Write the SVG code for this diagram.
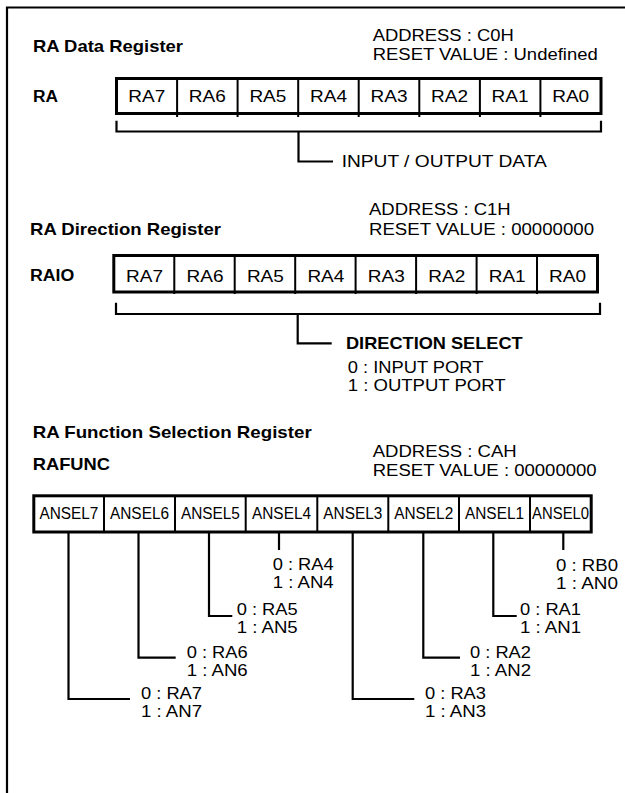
<svg xmlns="http://www.w3.org/2000/svg" width="625" height="793" viewBox="0 0 625 793">
<style>
text{font-family:"Liberation Sans",Arial,Helvetica,sans-serif;fill:#000}
.b{font-weight:bold;font-size:17px}
.lb{font-weight:bold;font-size:16px}
.r{font-size:16px}
.c{font-size:17px;text-anchor:middle}
.s{font-size:16px;text-anchor:middle}
.v{font-size:17px}
.box{fill:#fff;stroke:#000;stroke-width:3}
.dv{stroke:#000;stroke-width:2}
.ln{fill:none;stroke:#000;stroke-width:2.2}
</style>
<rect width="625" height="793" fill="#fff"/>
<g id="frame"><path d="M7,793 V7.5 H625" class="ln" stroke-width="2"/></g>

<g id="ra-data-register">
<text class="b" x="33" y="52" textLength="150" lengthAdjust="spacingAndGlyphs">RA Data Register</text>
<text class="r" x="372.7" y="41" textLength="141" lengthAdjust="spacingAndGlyphs">ADDRESS : C0H</text>
<text class="r" x="372.7" y="59.5" textLength="225" lengthAdjust="spacingAndGlyphs">RESET VALUE : Undefined</text>
<text class="lb" x="33" y="101.5" textLength="25" lengthAdjust="spacingAndGlyphs">RA</text>
<rect class="box" x="116.5" y="78.5" width="484.5" height="35"/>
<path class="dv" d="M177.1,78.5V117M237.6,78.5V117M298.2,78.5V117M358.7,78.5V117M419.3,78.5V117M479.9,78.5V117M540.4,78.5V117"/>
<g class="cells">
<text class="c" x="146.8" y="102" textLength="37" lengthAdjust="spacingAndGlyphs">RA7</text>
<text class="c" x="207.3" y="102" textLength="37" lengthAdjust="spacingAndGlyphs">RA6</text>
<text class="c" x="267.9" y="102" textLength="37" lengthAdjust="spacingAndGlyphs">RA5</text>
<text class="c" x="328.5" y="102" textLength="37" lengthAdjust="spacingAndGlyphs">RA4</text>
<text class="c" x="389" y="102" textLength="37" lengthAdjust="spacingAndGlyphs">RA3</text>
<text class="c" x="449.6" y="102" textLength="37" lengthAdjust="spacingAndGlyphs">RA2</text>
<text class="c" x="510.1" y="102" textLength="37" lengthAdjust="spacingAndGlyphs">RA1</text>
<text class="c" x="570.7" y="102" textLength="37" lengthAdjust="spacingAndGlyphs">RA0</text>
</g>
<text class="v" x="341.7" y="167" textLength="205" lengthAdjust="spacingAndGlyphs">INPUT / OUTPUT DATA</text>
</g>

<g id="ra-direction-register">
<text class="b" x="30" y="234.5" textLength="191" lengthAdjust="spacingAndGlyphs">RA Direction Register</text>
<text class="r" x="369" y="215" textLength="141.7" lengthAdjust="spacingAndGlyphs">ADDRESS : C1H</text>
<text class="r" x="369" y="234.5" textLength="225" lengthAdjust="spacingAndGlyphs">RESET VALUE : 00000000</text>
<text class="lb" x="30" y="281" textLength="44.3" lengthAdjust="spacingAndGlyphs">RAIO</text>
<rect class="box" x="113.8" y="255.5" width="483.7" height="36.5"/>
<path class="dv" d="M174.3,255.5V294M234.7,255.5V294M295.2,255.5V294M355.6,255.5V294M416.1,255.5V294M476.6,255.5V294M537,255.5V294"/>
<g class="cells">
<text class="c" x="144.5" y="281.5" textLength="37" lengthAdjust="spacingAndGlyphs">RA7</text>
<text class="c" x="205" y="281.5" textLength="37" lengthAdjust="spacingAndGlyphs">RA6</text>
<text class="c" x="265.4" y="281.5" textLength="37" lengthAdjust="spacingAndGlyphs">RA5</text>
<text class="c" x="325.9" y="281.5" textLength="37" lengthAdjust="spacingAndGlyphs">RA4</text>
<text class="c" x="386.3" y="281.5" textLength="37" lengthAdjust="spacingAndGlyphs">RA3</text>
<text class="c" x="446.8" y="281.5" textLength="37" lengthAdjust="spacingAndGlyphs">RA2</text>
<text class="c" x="507.2" y="281.5" textLength="37" lengthAdjust="spacingAndGlyphs">RA1</text>
<text class="c" x="567.5" y="281.5" textLength="37" lengthAdjust="spacingAndGlyphs">RA0</text>
</g>
<text class="b" x="346" y="348.5" textLength="176.7" lengthAdjust="spacingAndGlyphs">DIRECTION SELECT</text>
<text class="r" x="347.7" y="373" textLength="135.7" lengthAdjust="spacingAndGlyphs">0 : INPUT PORT</text>
<text class="r" x="347.7" y="391" textLength="158" lengthAdjust="spacingAndGlyphs">1 : OUTPUT PORT</text>
</g>

<g id="ra-function-selection-register">
<text class="b" x="32.7" y="437.5" textLength="279" lengthAdjust="spacingAndGlyphs">RA Function Selection Register</text>
<text class="b" x="32.7" y="470" textLength="77.3" lengthAdjust="spacingAndGlyphs">RAFUNC</text>
<text class="r" x="372.7" y="457" textLength="144" lengthAdjust="spacingAndGlyphs">ADDRESS : CAH</text>
<text class="r" x="372.7" y="476" textLength="224" lengthAdjust="spacingAndGlyphs">RESET VALUE : 00000000</text>
<rect class="box" x="33.8" y="495.8" width="557.4" height="36.2"/>
<path class="dv" d="M104,495.8V532M175,495.8V532M245.7,495.8V532M317.3,495.8V532M388.3,495.8V532M459,495.8V532M530,495.8V532"/>
<g class="cells">
<text class="s" x="68.9" y="518.5" textLength="59" lengthAdjust="spacingAndGlyphs">ANSEL7</text>
<text class="s" x="139.5" y="518.5" textLength="59" lengthAdjust="spacingAndGlyphs">ANSEL6</text>
<text class="s" x="210.4" y="518.5" textLength="59" lengthAdjust="spacingAndGlyphs">ANSEL5</text>
<text class="s" x="281.5" y="518.5" textLength="59" lengthAdjust="spacingAndGlyphs">ANSEL4</text>
<text class="s" x="352.8" y="518.5" textLength="59" lengthAdjust="spacingAndGlyphs">ANSEL3</text>
<text class="s" x="423.7" y="518.5" textLength="59" lengthAdjust="spacingAndGlyphs">ANSEL2</text>
<text class="s" x="494.5" y="518.5" textLength="59" lengthAdjust="spacingAndGlyphs">ANSEL1</text>
<text class="s" x="560.6" y="518.5" textLength="57" lengthAdjust="spacingAndGlyphs">ANSEL0</text>
</g>
</g>

<g id="bit-values">
<text class="v" x="141" y="698.5" textLength="61" lengthAdjust="spacingAndGlyphs">0 : RA7</text>
<text class="v" x="141" y="716.7" textLength="61" lengthAdjust="spacingAndGlyphs">1 : AN7</text>
<text class="v" x="186.7" y="657.5" textLength="61" lengthAdjust="spacingAndGlyphs">0 : RA6</text>
<text class="v" x="186.7" y="675.7" textLength="61" lengthAdjust="spacingAndGlyphs">1 : AN6</text>
<text class="v" x="236.7" y="615" textLength="61" lengthAdjust="spacingAndGlyphs">0 : RA5</text>
<text class="v" x="236.7" y="633" textLength="61" lengthAdjust="spacingAndGlyphs">1 : AN5</text>
<text class="v" x="272.7" y="570" textLength="61" lengthAdjust="spacingAndGlyphs">0 : RA4</text>
<text class="v" x="272.7" y="588.3" textLength="61" lengthAdjust="spacingAndGlyphs">1 : AN4</text>
<text class="v" x="425" y="698.5" textLength="61" lengthAdjust="spacingAndGlyphs">0 : RA3</text>
<text class="v" x="425" y="717" textLength="61" lengthAdjust="spacingAndGlyphs">1 : AN3</text>
<text class="v" x="470" y="657.5" textLength="61" lengthAdjust="spacingAndGlyphs">0 : RA2</text>
<text class="v" x="470" y="675.7" textLength="61" lengthAdjust="spacingAndGlyphs">1 : AN2</text>
<text class="v" x="520" y="615" textLength="61" lengthAdjust="spacingAndGlyphs">0 : RA1</text>
<text class="v" x="520" y="633" textLength="61" lengthAdjust="spacingAndGlyphs">1 : AN1</text>
<text class="v" x="556" y="570.7" textLength="62" lengthAdjust="spacingAndGlyphs">0 : RB0</text>
<text class="v" x="556" y="589" textLength="62" lengthAdjust="spacingAndGlyphs">1 : AN0</text>
</g>

<g id="connectors" class="ln">
<path d="M116.5,120.7V131.5H601V120.7"/>
<path d="M298.5,131.5V161.5H333"/>
<path d="M116,302.7V314H600V302.7"/>
<path d="M297.7,314V343.3H331.7"/>
<path d="M68.5,532V699H130"/>
<path d="M138.5,532V657.7H175.7"/>
<path d="M209,532V616H232.3"/>
<path d="M279,532V550"/>
<path d="M352.7,532V699H414.3"/>
<path d="M423.3,532V657.7H460"/>
<path d="M493.3,532V616H516.7"/>
<path d="M563.3,532V550"/>
</g>
</svg>
